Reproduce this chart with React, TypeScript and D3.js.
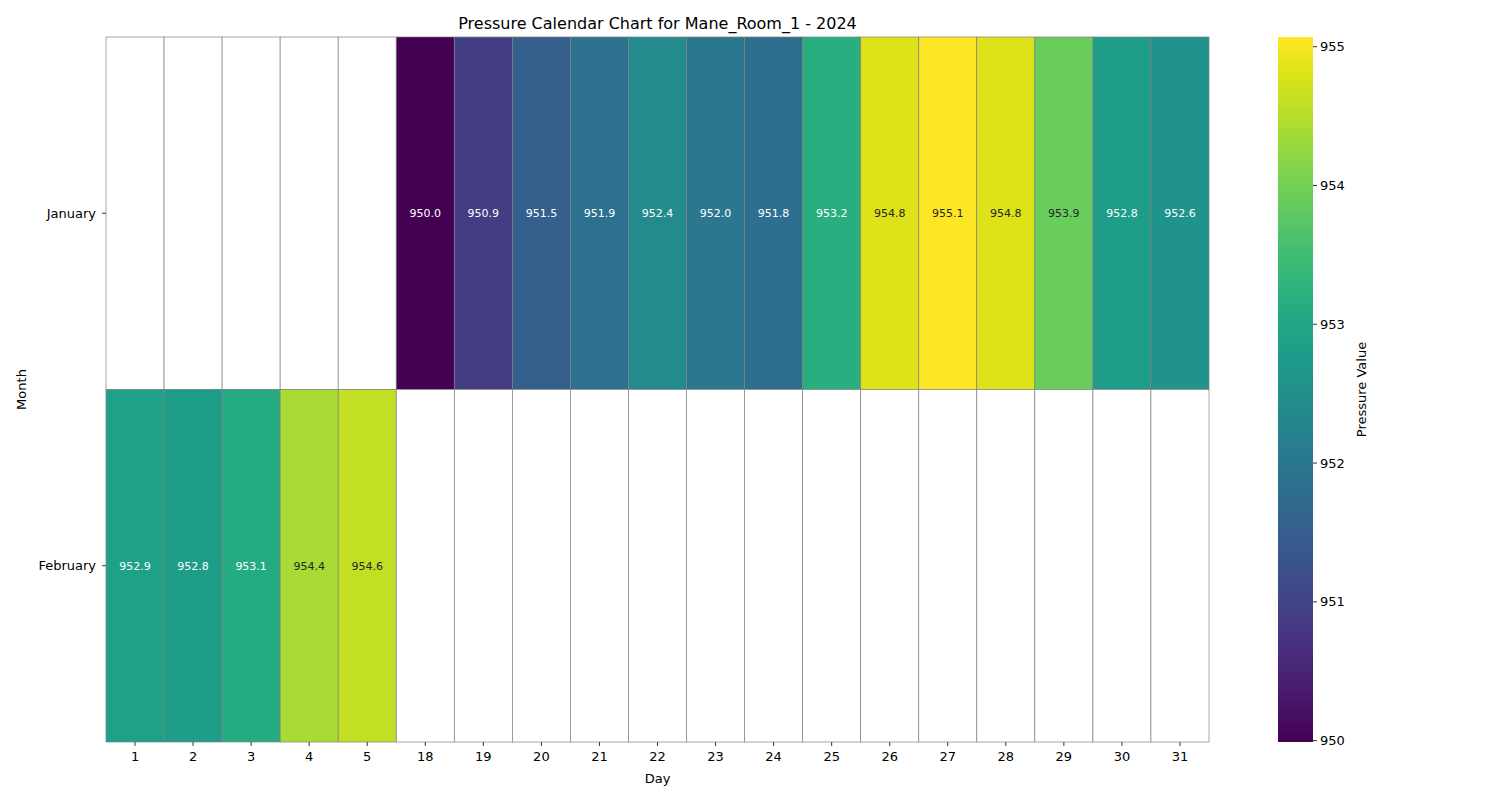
import React from "react";
import * as d3 from "d3";

const days = ["1","2","3","4","5","18","19","20","21","22","23","24","25","26","27","28","29","30","31"];
const months = ["January","February"];
const janValues: (number|null)[] = [null,null,null,null,null,950.0,950.9,951.5,951.9,952.4,952.0,951.8,953.2,954.8,955.1,954.8,953.9,952.8,952.6];
const febValues: (number|null)[] = [952.9,952.8,953.1,954.4,954.6,null,null,null,null,null,null,null,null,null,null,null,null,null,null];
const cbTicks = [950,951,952,953,954,955];

export default function App() {
  const W = 1500, H = 800;
  const left = 106, right = 1209, top = 37, bottom = 742;
  const x = d3.scaleBand().domain(days).range([left, right]);
  const y = d3.scaleBand().domain(months).range([top, bottom]);
  const vmin = 949.99, vmax = 955.07;
  const color = d3.scaleSequential(d3.interpolateViridis).domain([vmin, vmax]);
  const cbX = 1278, cbW = 35;
  const cy = d3.scaleLinear().domain([vmin, vmax]).range([bottom, top]);
  const rows = [janValues, febValues];
  const font = "DejaVu Sans, sans-serif";
  const textColor = (v: number) => {
    const c = d3.rgb(color(v));
    const lin = (u: number) => { u /= 255; return u <= 0.03928 ? u / 12.92 : Math.pow((u + 0.055) / 1.055, 2.4); };
    const L = 0.2126 * lin(c.r) + 0.7152 * lin(c.g) + 0.0722 * lin(c.b);
    return L > 0.408 ? "#262626" : "white";
  };
  const stops = d3.range(0, 1.0001, 0.05);
  return (
    <svg width={W} height={H} style={{ position: "absolute", left: 0, top: 0, fontFamily: font }}>
      <rect width={W} height={H} fill="white" />
      <defs>
        <linearGradient id="cb" x1="0" y1="1" x2="0" y2="0">
          {stops.map(s => <stop key={s} offset={s} stopColor={d3.interpolateViridis(s)} />)}
        </linearGradient>
      </defs>
      {rows.map((row, ri) => row.map((v, ci) => {
        const xx = x(days[ci])!, yy = y(months[ri])!;
        return (
          <g key={`${ri}-${ci}`}>
            <rect x={xx} y={yy} width={x.bandwidth()} height={y.bandwidth()} fill={v == null ? "white" : color(v)} stroke="gray" strokeWidth={0.7} />
            {v != null && <text x={xx + x.bandwidth() / 2} y={yy + y.bandwidth() / 2} dy="0.35em" textAnchor="middle" fontSize={11} fill={textColor(v)}>{v.toFixed(1)}</text>}
          </g>
        );
      }))}
      {days.map(d => (
        <g key={d}>
          <line x1={x(d)! + x.bandwidth() / 2} x2={x(d)! + x.bandwidth() / 2} y1={bottom} y2={bottom + 4} stroke="#333" />
          <text x={x(d)! + x.bandwidth() / 2} y={bottom + 19} textAnchor="middle" fontSize={13}>{d}</text>
        </g>
      ))}
      {months.map(m => (
        <g key={m}>
          <line x1={left - 4} x2={left} y1={y(m)! + y.bandwidth() / 2} y2={y(m)! + y.bandwidth() / 2} stroke="#333" />
          <text x={left - 10} y={y(m)! + y.bandwidth() / 2} dy="0.35em" textAnchor="end" fontSize={13}>{m}</text>
        </g>
      ))}
      <text x={(left + right) / 2} y={783} textAnchor="middle" fontSize={13}>Day</text>
      <text transform={`translate(26,${(top + bottom) / 2}) rotate(-90)`} textAnchor="middle" fontSize={13}>Month</text>
      <text x={(left + right) / 2} y={29} textAnchor="middle" fontSize={16}>Pressure Calendar Chart for Mane_Room_1 - 2024</text>
      <rect x={cbX} y={top} width={cbW} height={bottom - top} fill="url(#cb)" />
      {cbTicks.map(t => (
        <g key={t}>
          <line x1={cbX + cbW} x2={cbX + cbW + 4} y1={cy(t)} y2={cy(t)} stroke="#333" />
          <text x={cbX + cbW + 7} y={cy(t)} dy="0.35em" fontSize={13}>{t}</text>
        </g>
      ))}
      <text transform={`translate(1366,${(top + bottom) / 2}) rotate(-90)`} textAnchor="middle" fontSize={13}>Pressure Value</text>
    </svg>
  );
}
